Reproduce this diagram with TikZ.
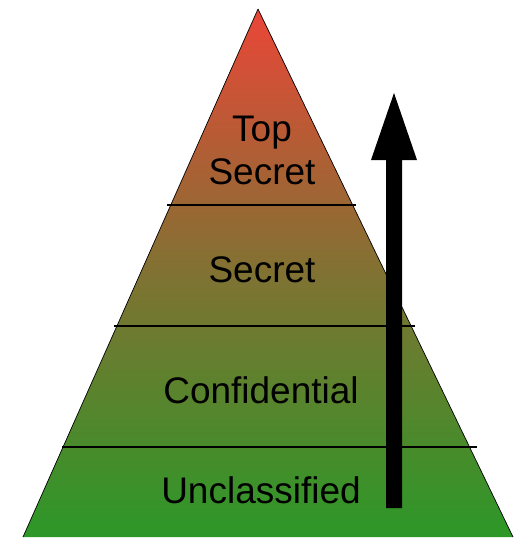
\documentclass[tikz,border=0pt]{standalone}
\usepackage{fontspec}
\setmainfont{Liberation Sans}
\definecolor{topred}{RGB}{234,70,56}
\definecolor{midolive}{RGB}{128,114,50}
\definecolor{botgreen}{RGB}{44,152,40}
\begin{document}
\begin{tikzpicture}[x=1pt,y=-1pt,
  lvl/.style={font=\fontsize{37}{43}\selectfont, align=center, text=black, inner sep=0pt},
  sep/.style={black, line width=1.2pt}]
\useasboundingbox (0,0) rectangle (519,538);
\coordinate (apex) at (258,9);
\coordinate (bl) at (23,537);
\coordinate (br) at (513,537);
\shade[top color=topred, bottom color=botgreen, middle color=midolive]
  (apex) -- (br) -- (bl) -- cycle;
\draw[black, line width=0.7pt, line join=miter] (apex) -- (br) (apex) -- (bl);
% separators
\coordinate (s1l) at (167,205); \coordinate (s1r) at (356,205);
\coordinate (s2l) at (114,326); \coordinate (s2r) at (415,326);
\coordinate (s3l) at (62,447);  \coordinate (s3r) at (477,447);
\draw[sep] (s1l) -- (s1r);
\draw[sep] (s2l) -- (s2r);
\draw[sep] (s3l) -- (s3r);
% labels
\node[lvl] (ts) at (262,150) {Top\\Secret};
\node[lvl] (sc) at (262,270) {Secret};
\node[lvl] (cf) at (261,390) {Confidential};
\node[lvl] (uc) at (261,490) {Unclassified};
% arrow
\coordinate (ab) at (394,508);
\coordinate (at) at (394,93);
\fill[black] (386,508) -- (386,160) -- (371,160) -- (at) -- (417,160) -- (402,160) -- (402,508) -- cycle;
\end{tikzpicture}
\end{document}
